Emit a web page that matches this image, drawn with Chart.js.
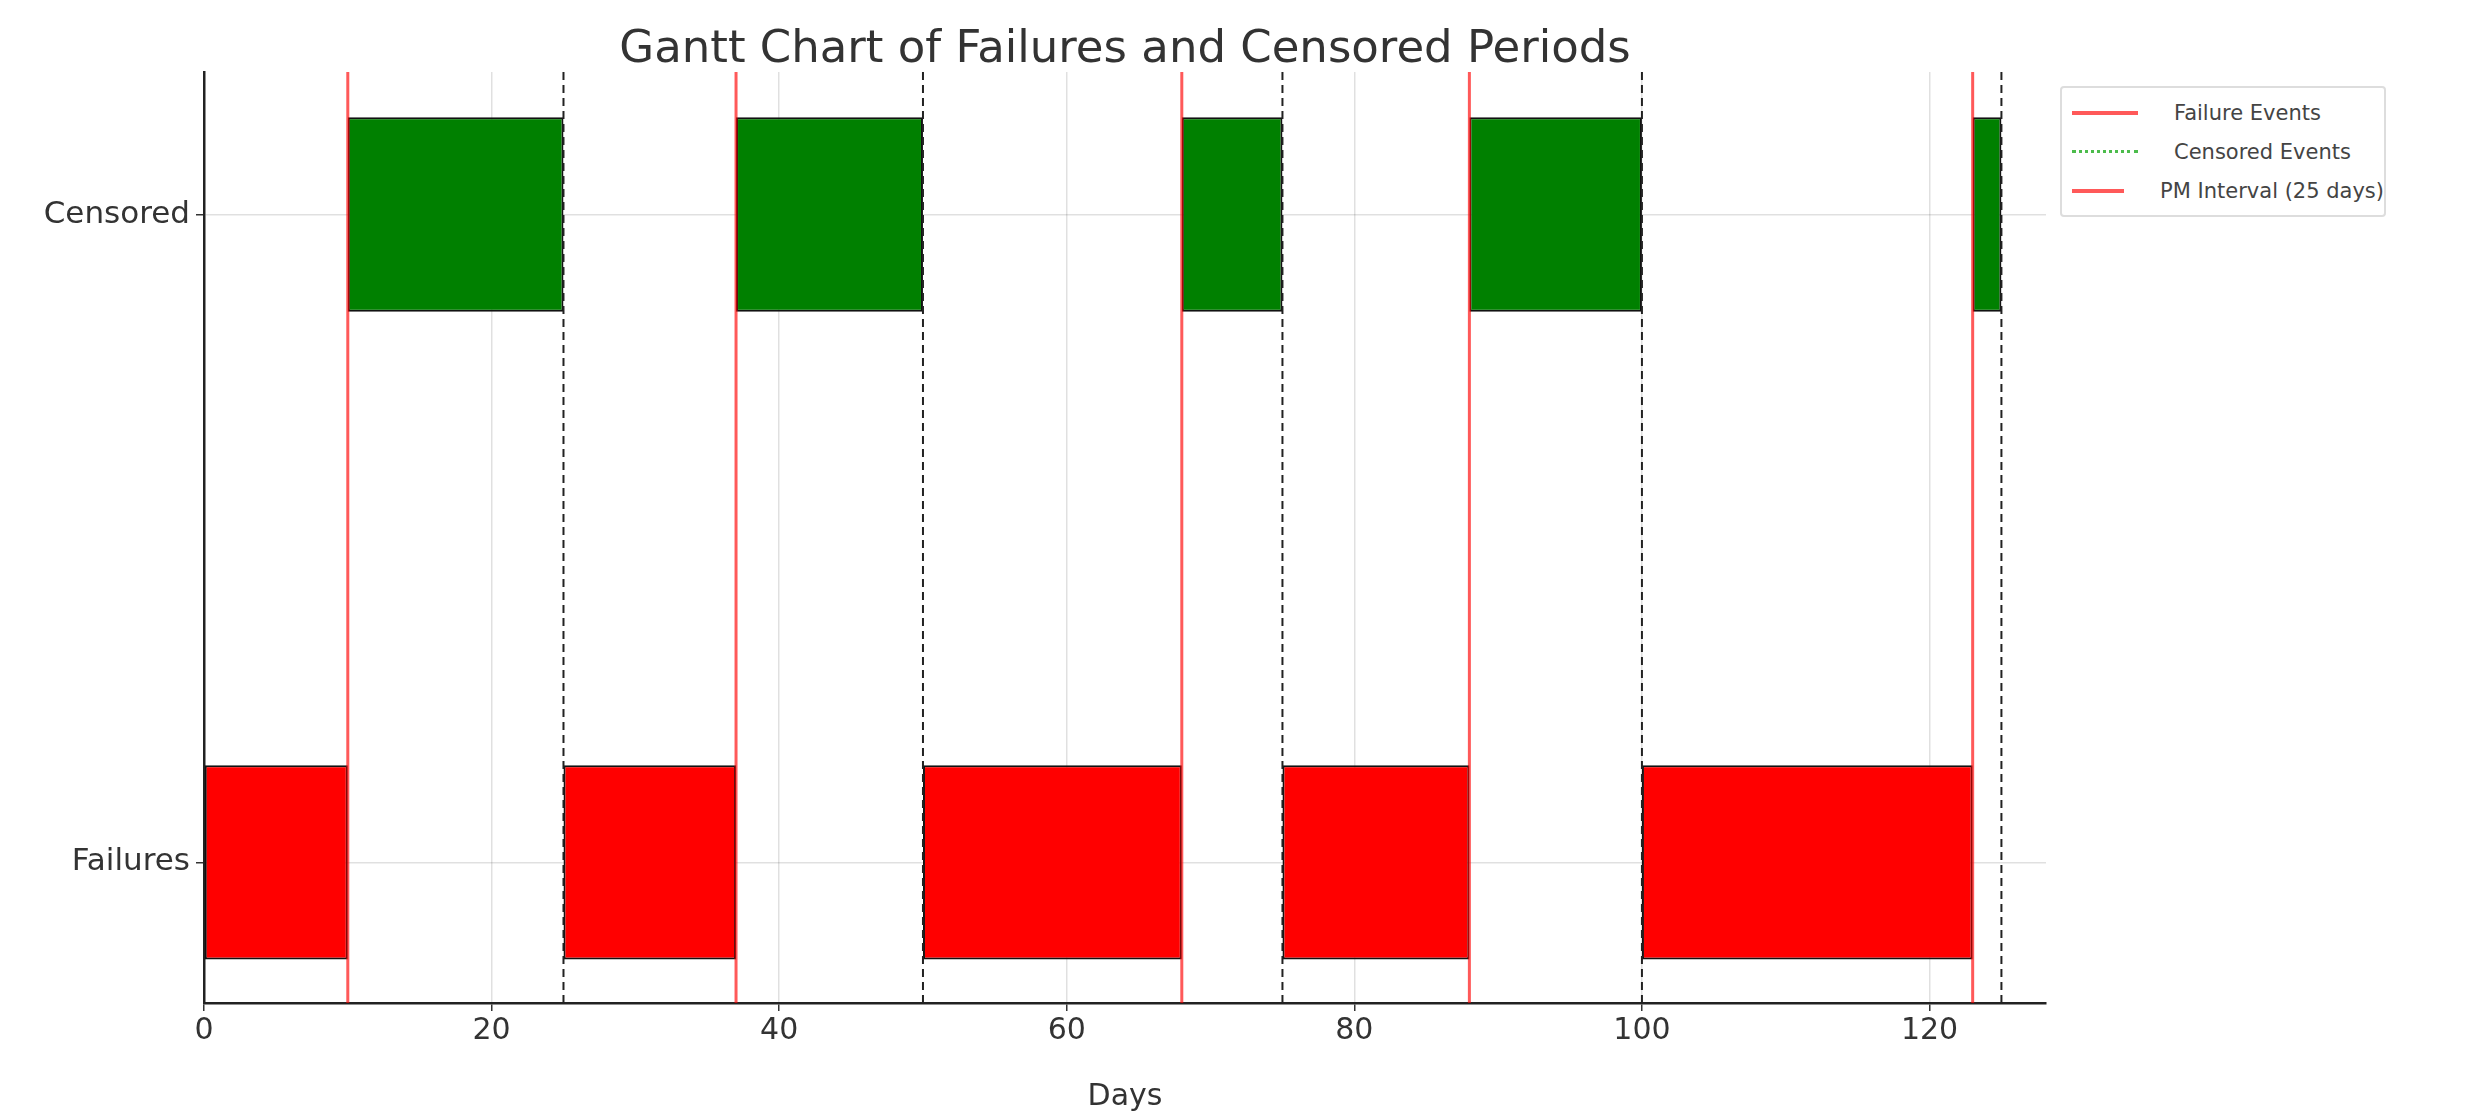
<!DOCTYPE html>
<html><head><meta charset="utf-8">
<script src="https://cdn.jsdelivr.net/npm/chart.js@4"></script>
<style>
html,body{margin:0;padding:0;background:#fff;}
#wrap{position:relative;width:2492px;height:1115px;font-family:"DejaVu Sans",sans-serif;}
#title{position:absolute;left:204px;width:1842px;top:20px;text-align:center;font-size:45px;color:#333;white-space:nowrap;}
#legend{position:absolute;left:2060px;top:86px;width:322px;border:2px solid #ddd;border-radius:4px;background:#fff;padding:5px 0;font-size:21px;color:#444;white-space:nowrap;}
.li{display:flex;align-items:center;height:39px;}
.sw{width:66px;margin:0 36px 0 10px;height:0;}
</style></head><body>
<div id="wrap">
<canvas id="c" width="2492" height="1115"></canvas>
<div id="title">Gantt Chart of Failures and Censored Periods</div>
<div id="legend">
 <div class="li"><div class="sw" style="border-top:4px solid rgba(255,0,0,0.65)"></div>Failure Events</div>
 <div class="li"><div class="sw" style="border-top:3px dotted rgba(0,160,0,0.7)"></div>Censored Events</div>
 <div class="li"><div class="sw" style="border-top:4px solid rgba(255,0,0,0.65)"></div>PM Interval (25 days)</div>
</div>
</div>
<script>
const categories = ['Failures','Censored'];
const failurePeriods = [[0,10],[25,37],[50,68],[75,88],[100,123]];
const censoredPeriods = [[10,25],[37,50],[68,75],[88,100],[123,125]];
const failureEvents = [10,37,68,88,123];
const pmEvents = [25,50,75,100,125];
const xTicks = [0,20,40,60,80,100,120];
const yMin = -0.217, yMax = 1.22;

const datasets = [
 {type:'bar',label:'Failures',data:failurePeriods.map(p=>({y:0,x:p})),backgroundColor:'#ff0000',borderColor:'#111',borderWidth:2,borderSkipped:false,grouped:false,barPercentage:0.3,categoryPercentage:1,order:2},
 {type:'bar',label:'Censored',data:censoredPeriods.map(p=>({y:1,x:p})),backgroundColor:'#008000',borderColor:'#111',borderWidth:2,borderSkipped:false,grouped:false,barPercentage:0.3,categoryPercentage:1,order:2}
];
failureEvents.forEach(v=>datasets.push({type:'line',indexAxis:'x',data:[{x:v,y:yMin},{x:v,y:yMax}],borderColor:'rgba(255,0,0,0.65)',borderWidth:3,pointRadius:0,order:1}));
pmEvents.forEach(v=>datasets.push({type:'line',indexAxis:'x',data:[{x:v,y:yMin},{x:v,y:yMax}],borderColor:'#222',borderWidth:2,borderDash:[8,5],pointRadius:0,order:0}));

new Chart(document.getElementById('c'),{
 type:'bar',
 data:{datasets},
 options:{
  responsive:false,animation:false,indexAxis:'y',
  layout:{padding:{left:0,top:72,right:2492-2046,bottom:0}},
  plugins:{legend:{display:false},tooltip:{enabled:false}},
  scales:{
   x:{type:'linear',min:0,max:128.1,offset:false,
      afterBuildTicks:s=>{s.ticks=xTicks.map(v=>({value:v}));},
      afterFit:s=>{s.height=112;},
      ticks:{font:{size:30,family:'DejaVu Sans'},color:'#333',padding:2,maxRotation:0},
      grid:{color:'rgba(0,0,0,0.12)',tickColor:'#333',tickLength:8,lineWidth:1.5,offset:false},
      border:{color:'#222',width:2.5},
      title:{display:true,text:'Days',font:{size:30,family:'DejaVu Sans'},color:'#333',padding:{top:0,bottom:0}}},
   y:{type:'linear',min:yMin,max:yMax,offset:false,
      afterBuildTicks:s=>{s.ticks=[0,1].map(v=>({value:v}));},
      afterFit:s=>{s.width=204;},
      ticks:{font:{size:31,family:'DejaVu Sans'},color:'#333',padding:6,callback:v=>categories[v]},
      grid:{color:'rgba(0,0,0,0.12)',tickColor:'#333',tickLength:8,lineWidth:1.5,offset:false},
      border:{color:'#222',width:2.5}}
  }
 }
});
</script>
</body></html>
